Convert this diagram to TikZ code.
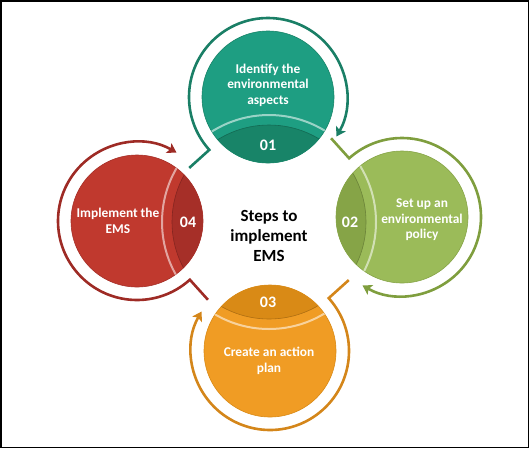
\documentclass[tikz,border=0pt]{standalone}
\usepackage{fontspec}
\setmainfont{Carlito}
\usetikzlibrary{calc,arrows.meta}

\definecolor{tealmain}{HTML}{1E9E82}
\definecolor{tealdark}{HTML}{188468}
\definecolor{tealring}{HTML}{1A7F66}
\definecolor{greenmain}{HTML}{9BBB59}
\definecolor{greendark}{HTML}{86A447}
\definecolor{greenring}{HTML}{7F9E3E}
\definecolor{orangemain}{HTML}{F09C24}
\definecolor{orangedark}{HTML}{D98A16}
\definecolor{orangering}{HTML}{D4861A}
\definecolor{redmain}{HTML}{C0392E}
\definecolor{reddark}{HTML}{A62F28}
\definecolor{redring}{HTML}{9E2B25}

\tikzset{
  stepcircle/.style={circle, minimum size=132pt, inner sep=0pt, line width=0.6pt},
  steptext/.style={text=white, font=\fontsize{13.4}{15.5}\selectfont\bfseries, align=center},
  stepnum/.style={text=white, font=\fontsize{16}{18}\selectfont\bfseries},
  ring/.style={line width=2.6pt, line join=miter, -{Stealth[length=9pt,width=11pt,inset=2pt]}},
  shine/.style={white, opacity=0.55, line width=2pt}
}

\begin{document}
\begin{tikzpicture}[x=1pt, y=1pt]
        \useasboundingbox (0,0) rectangle (529,-448);
        \draw[line width=1.5pt] (0.75,-0.75) rectangle (528.25,-447.25);

        \coordinate (mid) at (269,-222);

        % 01 top
        \node[stepcircle, fill=tealmain, draw=tealdark] (s1) at (268,-97) {};
        \begin{scope}
          \clip (s1) circle (66);
          \fill[tealdark] (mid) circle (97);
          \draw[tealdark!80!black, line width=0.6pt] (mid) circle (97);
          \draw[shine] (mid) circle (107);
        \end{scope}
        \node[steptext] (t1) at (268,-85) {Identify the\\environmental\\aspects};
        \node[stepnum] (n1) at (268,-145) {01};

        % 02 right
        \node[stepcircle, fill=greenmain, draw=greendark] (s2) at (402,-217) {};
        \begin{scope}
          \clip (s2) circle (66);
          \fill[greendark] (mid) circle (97);
          \draw[greendark!80!black, line width=0.6pt] (mid) circle (97);
          \draw[shine] (mid) circle (107);
        \end{scope}
        \node[steptext] (t2) at (422,-220) {Set up an\\environmental\\policy};
        \node[stepnum] (n2) at (350,-222) {02};

        % 03 bottom
        \node[stepcircle, fill=orangemain, draw=orangedark] (s3) at (270,-351) {};
        \begin{scope}
          \clip (s3) circle (66);
          \fill[orangedark] (mid) circle (97);
          \draw[orangedark!80!black, line width=0.6pt] (mid) circle (97);
          \draw[shine] (mid) circle (107);
        \end{scope}
        \node[steptext] (t3) at (269,-361) {Create an action\\plan};
        \node[stepnum] (n3) at (268,-302) {03};

        % 04 left
        \node[stepcircle, fill=redmain, draw=reddark] (s4) at (137,-221) {};
        \begin{scope}
          \clip (s4) circle (66);
          \fill[reddark] (mid) circle (97);
          \draw[reddark!80!black, line width=0.6pt] (mid) circle (97);
          \draw[shine] (mid) circle (107);
        \end{scope}
        \node[steptext] (t4) at (118,-221) {Implement the\\EMS};
        \node[stepnum] (n4) at (188,-222) {04};

        \node[font=\fontsize{17}{20}\selectfont\bfseries, align=center] (title) at (269,-236) {Steps to\\implement\\EMS};

        % rings
        \coordinate (tail1) at ($(s1)+(222:106)$);
        \coordinate (tail2) at ($(s2)+(132:106)$);
        \coordinate (tail3) at ($(s3)+(42:106)$);
        \coordinate (tail4) at ($(s4)+(-48:106)$);
        \draw[ring, tealring] (tail1) -- ($(s1)+(222:79)$) arc[start angle=222, end angle=-30, radius=79];
        \draw[ring, greenring] (tail2) -- ($(s2)+(132:79)$) arc[start angle=132, end angle=-120, radius=79];
        \draw[ring, orangering] (tail3) -- ($(s3)+(42:79)$) arc[start angle=42, end angle=-210, radius=79];
        \draw[ring, redring] (tail4) -- ($(s4)+(-48:79)$) arc[start angle=-48, end angle=-300, radius=79];
      \end{tikzpicture}
\end{document}
